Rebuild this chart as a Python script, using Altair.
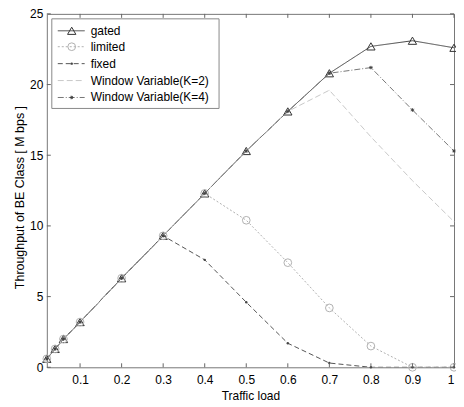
import altair as alt
import pandas as pd

x_vals = [0.02, 0.04, 0.06, 0.1, 0.2, 0.3, 0.4, 0.5, 0.6, 0.7, 0.8, 0.9, 1.0]
gated = [0.6, 1.3, 2.0, 3.2, 6.3, 9.3, 12.3, 15.3, 18.1, 20.8, 22.7, 23.1, 22.6]
limited = [0.6, 1.3, 2.0, 3.2, 6.3, 9.3, 12.3, 10.4, 7.4, 4.2, 1.5, 0.0, 0.0]
fixed = [0.6, 1.3, 2.0, 3.2, 6.3, 9.3, 7.6, 4.6, 1.7, 0.3, 0.0, 0.0, 0.0]
wv_k2 = [0.6, 1.3, 2.0, 3.2, 6.3, 9.3, 12.3, 15.3, 18.1, 19.6, 16.3, 13.2, 10.3]
wv_k4 = [0.6, 1.3, 2.0, 3.2, 6.3, 9.3, 12.3, 15.3, 18.1, 20.8, 21.2, 18.2, 15.3]

names = ["gated", "limited", "fixed", "Window Variable(K=2)", "Window Variable(K=4)"]
series = [gated, limited, fixed, wv_k2, wv_k4]

x_ticks = [0.1, 0.2, 0.3, 0.4, 0.5, 0.6, 0.7, 0.8, 0.9, 1.0]
y_ticks = [0, 5, 10, 15, 20, 25]

W, H = 409, 355
FONT = "Liberation Sans"

ASTER = "M-1,0L1,0M0,-1L0,1M-0.7,-0.7L0.7,0.7M-0.7,0.7L0.7,-0.7"

styles = {
    "gated": dict(color="#444444", dash=[1, 0], shape="triangle-up", size=70, filled=False, mcolor="#333333"),
    "limited": dict(color="#b0b0b0", dash=[2, 2], shape="circle", size=60, filled=False, mcolor="#b0b0b0"),
    "fixed": dict(color="#555555", dash=[5, 3], shape="circle", size=6, filled=True, mcolor="#444444"),
    "Window Variable(K=2)": dict(color="#c8c8c8", dash=[6, 3], shape="circle", size=1, filled=True, mcolor="#dddddd"),
    "Window Variable(K=4)": dict(color="#777777", dash=[6, 2, 1, 2], shape=ASTER, size=12, filled=False, mcolor="#444444"),
}

xscale = alt.Scale(domain=[0.02, 1.0], nice=False, zero=False)
yscale = alt.Scale(domain=[0, 25], nice=False)

xaxis = alt.Axis(values=x_ticks, format="~g", grid=False, domain=False, ticks=False,
                 labelPadding=7, title="Traffic load", titlePadding=5,
                 labelFontSize=12, titleFontSize=12, labelFont=FONT, titleFont=FONT,
                 labelColor="#000", titleColor="#000", titleFontWeight="normal")
yaxis = alt.Axis(values=y_ticks, grid=False, domain=False, ticks=False,
                 labelPadding=4, title="Throughput of BE Class [ M bps  ]", titlePadding=3,
                 titleY=184,
                 labelFontSize=12, titleFontSize=12.5, labelFont=FONT, titleFont=FONT,
                 labelColor="#000", titleColor="#000", titleFontWeight="normal")

layers = []
for name, vals in zip(names, series):
    st = styles[name]
    df = pd.DataFrame({"x": x_vals, "y": vals, "series": name})
    enc_x = alt.X("x:Q", scale=xscale, axis=xaxis)
    enc_y = alt.Y("y:Q", scale=yscale, axis=yaxis)
    line = alt.Chart(df).mark_line(color=st["color"], strokeDash=st["dash"], strokeWidth=1, clip=True).encode(
        x=enc_x, y=enc_y)
    pts = alt.Chart(df).mark_point(shape=st["shape"], size=st["size"], filled=st["filled"],
                                   color=st["mcolor"], strokeWidth=1, opacity=1).encode(
        x=enc_x, y=enc_y)
    layers += [line, pts]

# inward ticks (box style)
xt = pd.DataFrame({"x": x_ticks})
yt = pd.DataFrame({"y": y_ticks})
tick_color = "#666666"
ex = alt.X("x:Q", scale=xscale, axis=xaxis)
ey = alt.Y("y:Q", scale=yscale, axis=yaxis)
layers.append(alt.Chart(xt).mark_rule(color=tick_color, strokeWidth=1).encode(
    x=ex, y=alt.value(H), y2=alt.value(H - 4)))
layers.append(alt.Chart(xt).mark_rule(color=tick_color, strokeWidth=1).encode(
    x=ex, y=alt.value(0), y2=alt.value(4)))
layers.append(alt.Chart(yt).mark_rule(color=tick_color, strokeWidth=1).encode(
    y=ey, x=alt.value(0), x2=alt.value(4)))
layers.append(alt.Chart(yt).mark_rule(color=tick_color, strokeWidth=1).encode(
    y=ey, x=alt.value(W), x2=alt.value(W - 4)))

# legend box
legend_df = pd.DataFrame({"label": ["box"]})
layers.append(alt.Chart(legend_df).mark_rect(fill="white", stroke="#888888", strokeWidth=1).encode(
    x=alt.value(5), x2=alt.value(173), y=alt.value(5), y2=alt.value(95)))
leg_y = [17, 33, 50, 67, 84]
for name, ly in zip(names, leg_y):
    st = styles[name]
    d = pd.DataFrame({"label": [name]})
    layers.append(alt.Chart(d).mark_rule(color=st["color"], strokeDash=st["dash"], strokeWidth=1).encode(
        x=alt.value(11), x2=alt.value(38), y=alt.value(ly)))
    if st["size"] > 2:
        layers.append(alt.Chart(d).mark_point(shape=st["shape"], size=st["size"], filled=st["filled"],
                                              color=st["mcolor"], strokeWidth=1, opacity=1).encode(
            x=alt.value(25), y=alt.value(ly)))
    layers.append(alt.Chart(d).mark_text(align="left", baseline="middle", font=FONT, fontSize=12,
                                         color="#000").encode(
        x=alt.value(44), y=alt.value(ly), text="label:N"))

chart = alt.layer(*layers).properties(
    width=W, height=H,
    autosize=alt.AutoSizeParams(type="none"),
    padding={"left": 39, "top": 5, "right": 2, "bottom": 39},
    background="white",
).configure_view(stroke="#777777", strokeWidth=1)

chart.save("out.html", embed_options={"renderer": "svg", "actions": False})
